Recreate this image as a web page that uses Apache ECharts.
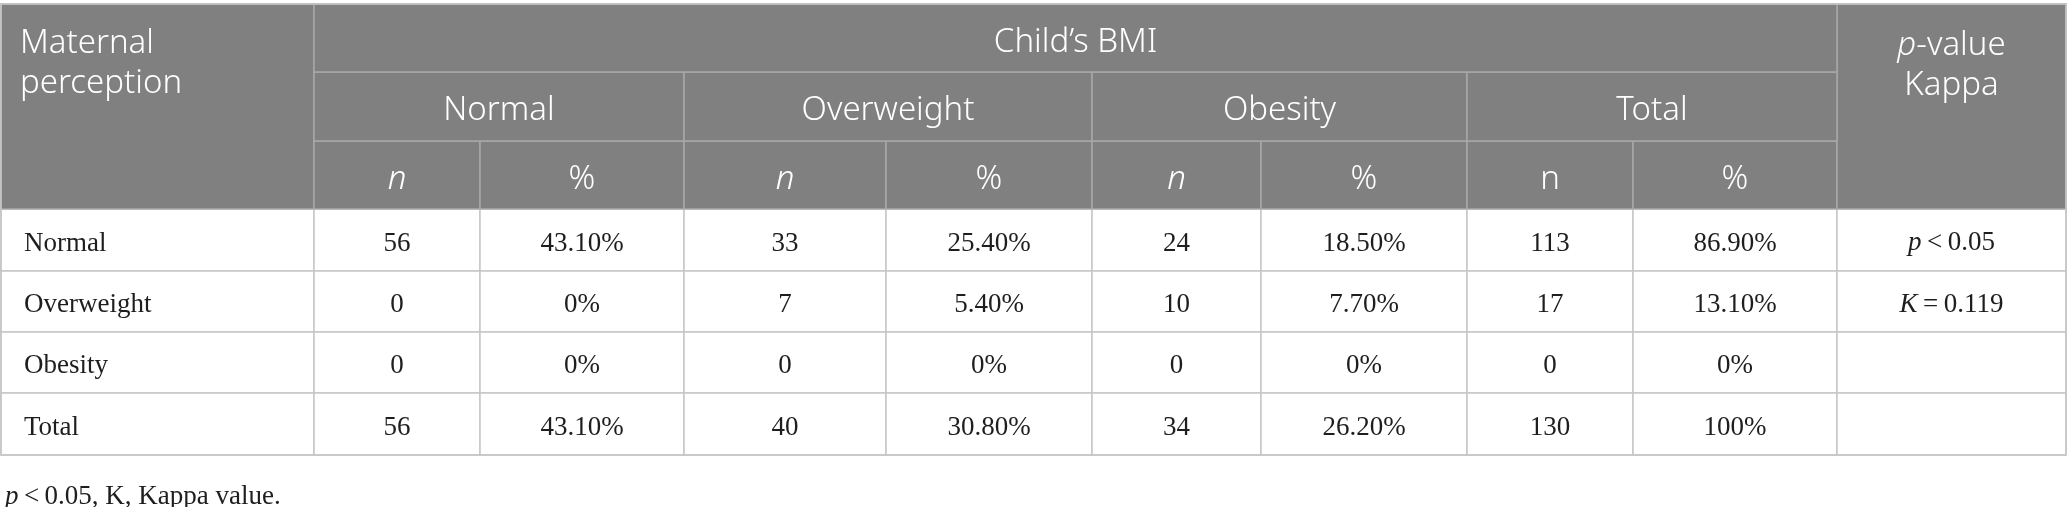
<!DOCTYPE html>
<html>
<head>
<meta charset="utf-8">
<script src="https://cdn.jsdelivr.net/npm/echarts@6/dist/echarts.min.js"></script>
<style>
html, body { margin: 0; padding: 0; background: #fff; }
#table { width: 2068px; height: 507px; }
</style>
</head>
<body>
<div id="table"></div>
<script type="text/javascript">
// rows of the cross table (maternal perception)
var rowLabels = ['Normal', 'Overweight', 'Obesity', 'Total'];
// child's BMI groups
var groups = ['Normal', 'Overweight', 'Obesity', 'Total'];
var normalN = [56, 0, 0, 56];
var normalPct = [43.1, 0, 0, 43.1];
var overN = [33, 7, 0, 40];
var overPct = [25.4, 5.4, 0, 30.8];
var obeseN = [24, 10, 0, 34];
var obesePct = [18.5, 7.7, 0, 26.2];
var totalN = [113, 17, 0, 130];
var totalPct = [86.9, 13.1, 0, 100];
var stats = ['{i|p}\u2009<\u20090.05', '{i|K}\u2009=\u20090.119', '', ''];
var statHead = '{i|p}-value\nKappa';
var footnote = '{i|p}\u2009<\u20090.05, K, Kappa value.';

// layout
var tableLeft = 1, tableTop = 4;
var firstColW = 313, nW = [166, 202, 169, 166], pctW = [204, 206, 206, 204], statW = 229;
var headLevels = [68, 69, 68], rowH = [62, 61, 61, 62];
var headFont = 'Noto Sans', bodyFont = 'Liberation Serif';

function pct(v) {
  return (v % 1 === 0 ? v : v.toFixed(2)) + '%';
}
function sum(a) { return a.reduce(function (s, v) { return s + v; }, 0); }
// a leading empty short line pushes the centred text a few px down
function low(s) { return '\n' + s; }

var tableW = firstColW + sum(nW) + sum(pctW) + statW;
var headH = sum(headLevels);

var xData = [
  { value: 'Maternal\nperception', size: firstColW,
    label: { position: 'insideTopLeft', distance: 8, lineHeight: 40, align: 'left', padding: [12, 0, 0, 11] } },
  { value: low('Child\u2019s BMI'), children: groups.map(function (g, i) {
      // zero-width spaces keep the repeated n / % headers distinct
      var tag = new Array(i + 1).join('\u200b');
      return { value: low(g), children: [
        { value: low('n' + tag), size: nW[i], label: { fontStyle: i < 3 ? 'italic' : 'normal' } },
        { value: low('%' + tag), size: pctW[i] }
      ] };
    }) },
  // text of this header is drawn below (mixed italic)
  { value: ' ', size: statW }
];

var cols = [normalN, normalPct, overN, overPct, obeseN, obesePct, totalN, totalPct];
var cells = [];
rowLabels.forEach(function (r, ri) {
  cells.push({ coord: [0, ri], value: low(r), label: { position: 'insideLeft', distance: 20 } });
  cols.forEach(function (c, ci) {
    cells.push({ coord: [ci + 1, ri], value: low(ci % 2 ? pct(c[ri]) : String(c[ri])) });
  });
});

// last column: italic symbols need rich text, centred on the column
var statX = tableLeft + tableW - statW / 2;
var graphics = [{
  type: 'text', x: statX, y: tableTop + 22, z: 50,
  style: { text: statHead, fill: '#fff', fontSize: 33, fontFamily: headFont, fontWeight: 300,
    lineHeight: 40, align: 'center', verticalAlign: 'top',
    rich: { i: { fontStyle: 'italic', fontSize: 33, fontFamily: headFont, fontWeight: 300, fill: '#fff', lineHeight: 40 } } }
}];
var yTop = tableTop + headH;
stats.forEach(function (s, i) {
  if (s) {
    graphics.push({
      type: 'text', x: statX, y: yTop + rowH[i] / 2 + 3, z: 50,
      style: { text: s, fill: '#1e1e1e', fontSize: 27, fontFamily: bodyFont, align: 'center', verticalAlign: 'middle',
        rich: { i: { fontStyle: 'italic', fontSize: 27, fontFamily: bodyFont, fill: '#1e1e1e' } } }
    });
  }
  yTop += rowH[i];
});

var myChart = echarts.init(document.getElementById('table'));
option = {
  animation: false,
  title: {
    text: footnote, left: 0, top: 478,
    textStyle: { fontSize: 27, fontFamily: bodyFont, fontWeight: 'normal', color: '#1e1e1e',
      rich: { i: { fontStyle: 'italic', fontSize: 27, fontFamily: bodyFont, color: '#1e1e1e' } } }
  },
  matrix: {
    left: tableLeft, top: tableTop, width: tableW, height: headH + sum(rowH),
    x: {
      data: xData,
      levels: headLevels.map(function (h) { return { levelSize: h }; }),
      label: { color: '#fff', fontSize: 33, fontFamily: headFont, fontWeight: 300, lineHeight: 9 },
      itemStyle: { color: '#808080', borderColor: '#a8a8a8', borderWidth: 1.5 }
    },
    y: {
      show: false,
      data: rowLabels.map(function (r, i) { return { value: r, size: rowH[i] }; })
    },
    body: {
      data: cells,
      label: { color: '#1e1e1e', fontSize: 27, fontFamily: bodyFont, lineHeight: 7 },
      itemStyle: { color: '#fff', borderColor: '#c6c6c6', borderWidth: 1.5 }
    },
    backgroundStyle: { color: '#fff', borderColor: '#c6c6c6', borderWidth: 1.5 }
  },
  graphic: graphics
};
myChart.setOption(option);
</script>
</body>
</html>
